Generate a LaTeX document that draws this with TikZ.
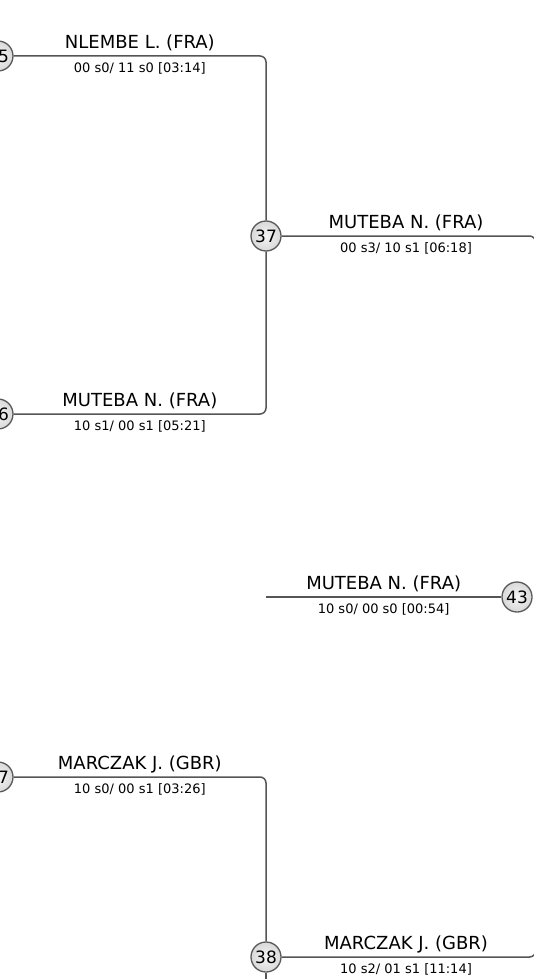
\documentclass[tikz,border=0pt]{standalone}
\usepackage{fontspec}
\setmainfont{DejaVu Sans}
\usetikzlibrary{positioning,calc}
\definecolor{linkgray}{HTML}{555555}
\definecolor{ringgray}{HTML}{5a5a5a}

\begin{document}
\begin{tikzpicture}[x=1pt,y=1pt,
  match/.style={circle,draw=ringgray,line width=1.3pt,inner color=gray!8,outer color=gray!30,
    minimum size=30pt,inner sep=0pt,font=\fontsize{17}{19}\selectfont},
  link/.style={draw=linkgray,line width=1.5pt,rounded corners=6pt},
  player/.style={inner sep=0pt,text depth=0pt,font=\fontsize{18}{20}\selectfont},
  score/.style={inner sep=0pt,text height=9.5pt,font=\fontsize{13}{15}\selectfont}]
\useasboundingbox (0,0) rectangle (533,-979);
% match circles, the ones on the left are cut by the page edge
\node[match] (p5) at (-2,-56) {\phantom{0}5};
\node[match] (p6) at (-2,-414) {\phantom{0}6};
\node[match] (m37) at (266,-236) {37};
\node[match] (m43) at (517,-597) {43};
\node[match] (p7) at (-2,-777) {\phantom{0}7};
\node[match] (m38) at (266,-957) {38};
% free ends of the connectors
\coordinate (fin37) at (535.5,-300);
\coordinate (fin38) at (535.5,-900);
\coordinate (start43) at (266,-597);
\coordinate (low38) at (266,-995);
% upper pair
\draw[link] (p5) -- node[player,above=7pt] {NLEMBE L. (FRA)} node[score,below=6pt] {00 s0/ 11 s0 [03:14]} (266,-56) -- (m37);
\draw[link] (p6) -- node[player,above=7pt] {MUTEBA N. (FRA)} node[score,below=6pt] {10 s1/ 00 s1 [05:21]} (266,-414) -- (m37);
\draw[link] (m37) -- node[player,above=7pt,pos=0.49] {MUTEBA N. (FRA)} node[score,below=6pt,pos=0.49] {00 s3/ 10 s1 [06:18]} (535.5,-236) -- (fin37);
% middle line
\draw[link] (start43) -- node[player,above=7pt] {MUTEBA N. (FRA)} node[score,below=6pt] {10 s0/ 00 s0 [00:54]} (m43);
% lower pair
\draw[link] (p7) -- node[player,above=7pt] {MARCZAK J. (GBR)} node[score,below=6pt] {10 s0/ 00 s1 [03:26]} (266,-777) -- (m38);
\draw[link] (m38) -- (low38);
\draw[link] (m38) -- node[player,above=7pt,pos=0.49] {MARCZAK J. (GBR)} node[score,below=6pt,pos=0.49] {10 s2/ 01 s1 [11:14]} (535.5,-957) -- (fin38);
\end{tikzpicture}
\end{document}
